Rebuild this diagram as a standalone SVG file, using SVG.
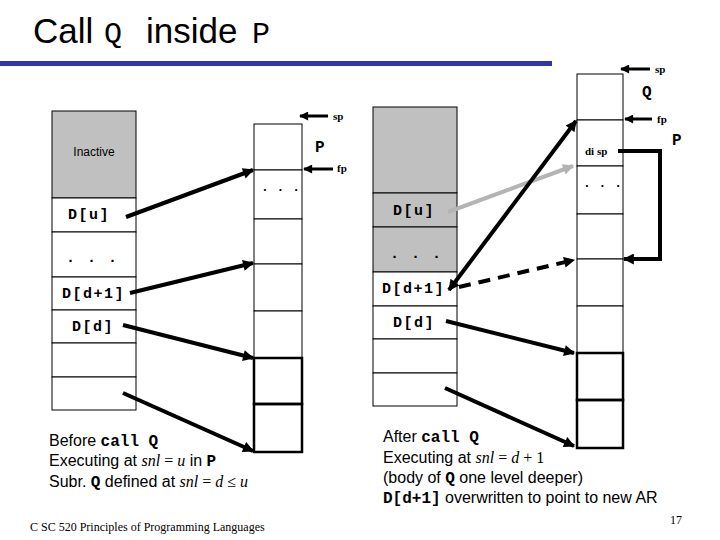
<svg xmlns="http://www.w3.org/2000/svg" width="720" height="540" viewBox="0 0 720 540">
<defs>
<style>
.cell{fill:#fff;stroke:#000;stroke-width:1}
.gray{fill:#c0c0c0;stroke:#000;stroke-width:1}
.thick{fill:none;stroke:#000;stroke-width:2.5}
.lbl{font-family:"Liberation Mono","Courier New",monospace;font-weight:bold;font-size:15px;letter-spacing:1.5px;fill:#000}
.dots{font-family:"Liberation Mono",monospace;font-weight:bold;font-size:13px;fill:#000}
.ptr{font-family:"Liberation Serif","Times New Roman",serif;font-weight:bold;font-size:11px;fill:#000}
.ar{font-family:"Liberation Mono",monospace;font-weight:bold;font-size:16px;fill:#000}
.txt{font-family:"Liberation Sans",Arial,sans-serif;font-size:16px;fill:#000}
.code{font-family:"Liberation Mono","Courier New",monospace;font-weight:bold}
.it{font-family:"Liberation Serif","Times New Roman",serif;font-style:italic}
.ser{font-family:"Liberation Serif","Times New Roman",serif}
.arrow{stroke:#000;stroke-width:4;fill:none}
.small{stroke:#000;stroke-width:3;fill:none}
</style>
<marker id="ah" viewBox="0 0 10 10" refX="9" refY="5" markerUnits="userSpaceOnUse" markerWidth="13" markerHeight="11" orient="auto-start-reverse">
<path d="M0,0 L10,5 L0,10 z" fill="#000"/>
</marker>
<marker id="ahs" viewBox="0 0 10 10" refX="9" refY="5" markerUnits="userSpaceOnUse" markerWidth="10" markerHeight="9" orient="auto">
<path d="M0,0 L10,5 L0,10 z" fill="#000"/>
</marker>
<marker id="ahg" viewBox="0 0 10 10" refX="9" refY="5" markerUnits="userSpaceOnUse" markerWidth="13" markerHeight="11" orient="auto">
<path d="M0,0 L10,5 L0,10 z" fill="#b4b4b4"/>
</marker>
</defs>
<rect width="720" height="540" fill="#fff"/>

<g id="title">
<text x="33" y="43" font-family="Liberation Sans,Arial,sans-serif" font-size="35">Call</text>
<text x="104" y="43" font-family="Liberation Mono,Courier New,monospace" font-size="30">Q</text>
<text x="146" y="43" font-family="Liberation Sans,Arial,sans-serif" font-size="35">inside</text>
<text x="252" y="43" font-family="Liberation Mono,Courier New,monospace" font-size="30">P</text>
<rect x="0" y="61" width="552" height="5" fill="#3333aa"/>
</g>

<g id="left-display">
<rect class="gray" x="52" y="111" width="84" height="87"/>
<rect class="cell" x="52" y="198" width="84" height="34"/>
<rect class="cell" x="52" y="232" width="84" height="45"/>
<rect class="cell" x="52" y="277" width="84" height="33"/>
<rect class="cell" x="52" y="310" width="84" height="33"/>
<rect class="cell" x="52" y="343" width="84" height="34"/>
<rect class="cell" x="52" y="377" width="84" height="33"/>
<text x="94" y="156" text-anchor="middle" font-family="Liberation Sans,Arial,sans-serif" font-size="12">Inactive</text>
<text class="lbl" x="68" y="219">D[u]</text>
<text class="lbl" x="66" y="262" letter-spacing="8">. . .</text>
<text class="lbl" x="62" y="298">D[d+1]</text>
<text class="lbl" x="72" y="331">D[d]</text>
</g>

<g id="left-stack">
<rect class="cell" x="254" y="124" width="48" height="46"/>
<rect class="cell" x="254" y="170" width="48" height="49"/>
<rect class="cell" x="254" y="219" width="48" height="45"/>
<rect class="cell" x="254" y="264" width="48" height="47"/>
<rect class="cell" x="254" y="311" width="48" height="47"/>
<rect class="thick" x="254" y="358" width="48" height="46"/>
<rect class="thick" x="254" y="404" width="48" height="48"/>
<text class="dots" x="261" y="191">. . .</text>
<text class="ar" x="315" y="152">P</text>
<text class="ptr" x="333" y="120">sp</text>
<text class="ptr" x="337" y="172">fp</text>
</g>

<g id="right-display">
<rect class="gray" x="373" y="107" width="84" height="86"/>
<rect class="gray" x="373" y="193" width="84" height="34"/>
<rect class="gray" x="373" y="227" width="84" height="45"/>
<rect class="cell" x="373" y="272" width="84" height="34"/>
<rect class="cell" x="373" y="306" width="84" height="33"/>
<rect class="cell" x="373" y="339" width="84" height="34"/>
<rect class="cell" x="373" y="373" width="84" height="33"/>
<text class="lbl" x="393" y="215">D[u]</text>
<text class="lbl" x="390" y="258" letter-spacing="8">. . .</text>
<text class="lbl" x="382" y="293">D[d+1]</text>
<text class="lbl" x="393" y="327">D[d]</text>
</g>

<g id="right-stack">
<rect class="cell" x="577" y="74" width="46" height="46"/>
<rect class="cell" x="577" y="120" width="46" height="46"/>
<rect class="cell" x="577" y="166" width="46" height="48"/>
<rect class="cell" x="577" y="214" width="46" height="45"/>
<rect class="cell" x="577" y="259" width="46" height="47"/>
<rect class="cell" x="577" y="306" width="46" height="47"/>
<rect class="thick" x="577" y="353" width="46" height="47"/>
<rect class="thick" x="577" y="400" width="46" height="48"/>
<text class="dots" x="583" y="187">. . .</text>
<text class="ptr" x="585" y="155" font-size="12">di sp</text>
<text class="ar" x="642" y="97">Q</text>
<text class="ar" x="672" y="145">P</text>
<text class="ptr" x="655" y="73">sp</text>
<text class="ptr" x="657" y="123">fp</text>
</g>

<g id="connectors">
<line class="small" x1="328" y1="116" x2="300" y2="116" marker-end="url(#ahs)"/>
<line class="small" x1="333" y1="169" x2="304" y2="169" marker-end="url(#ahs)"/>
<line class="small" x1="650" y1="69" x2="621" y2="69" marker-end="url(#ahs)"/>
<line class="small" x1="652" y1="119" x2="625" y2="119" marker-end="url(#ahs)"/>

<line class="arrow" x1="126" y1="217" x2="253" y2="170" marker-end="url(#ah)"/>
<line class="arrow" x1="130" y1="293" x2="253" y2="263" marker-end="url(#ah)"/>
<line class="arrow" x1="123" y1="325" x2="253" y2="358" marker-end="url(#ah)"/>
<line class="arrow" x1="123" y1="393" x2="253" y2="451" marker-end="url(#ah)"/>

<line x1="448" y1="212" x2="573" y2="166" stroke="#b4b4b4" stroke-width="4" marker-end="url(#ahg)"/>
<line class="arrow" x1="449" y1="290" x2="576" y2="121" marker-start="url(#ah)" marker-end="url(#ah)"/>
<line class="arrow" x1="459" y1="287" x2="574" y2="260" stroke-dasharray="12,8" marker-end="url(#ah)"/>
<line class="arrow" x1="446" y1="321" x2="574" y2="353" marker-end="url(#ah)"/>
<line class="arrow" x1="445" y1="388" x2="574" y2="446" marker-end="url(#ah)"/>
<polyline class="arrow" points="618,151 660,151 660,259 624,259" marker-end="url(#ah)"/>
</g>

<g id="notes">
<text class="txt" x="49" y="446">Before <tspan class="code">call Q</tspan></text>
<text class="txt" x="49" y="466">Executing at <tspan class="it">snl</tspan><tspan class="ser"> = </tspan><tspan class="it">u</tspan> in <tspan class="code">P</tspan></text>
<text class="txt" x="49" y="487">Subr. <tspan class="code">Q</tspan> defined at <tspan class="it">snl</tspan><tspan class="ser"> = </tspan><tspan class="it">d</tspan><tspan class="ser"> ≤ </tspan><tspan class="it">u</tspan></text>
<text class="txt" x="383" y="442">After <tspan class="code">call Q</tspan></text>
<text class="txt" x="383" y="463">Executing at <tspan class="it">snl</tspan><tspan class="ser"> = </tspan><tspan class="it">d</tspan><tspan class="ser"> + 1</tspan></text>
<text class="txt" x="383" y="483">(body of <tspan class="code">Q</tspan> one level deeper)</text>
<text class="txt" x="383" y="503"><tspan class="code">D[d+1]</tspan> overwritten to point to new AR</text>
<text x="30" y="531" font-family="Liberation Serif,Times New Roman,serif" font-size="12">C SC 520 Principles of Programming Languages</text>
<text x="670" y="524" font-family="Liberation Serif,Times New Roman,serif" font-size="12">17</text>
</g>
</svg>
